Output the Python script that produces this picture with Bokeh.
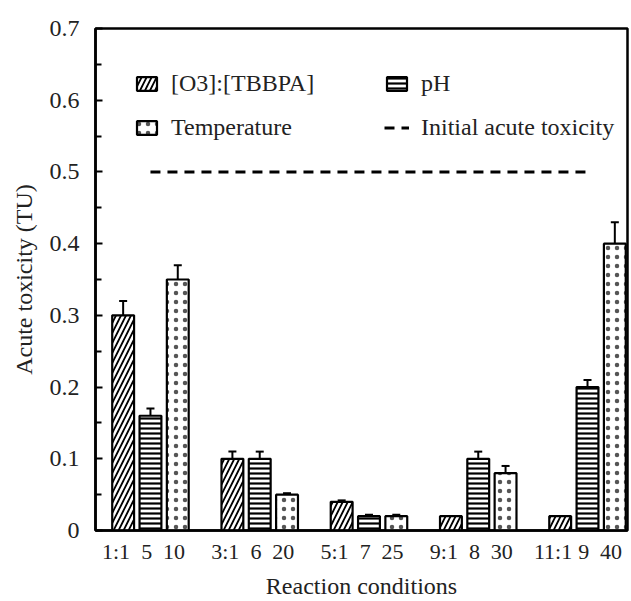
from bokeh.plotting import figure
from bokeh.models import (ColumnDataSource, FixedTicker, Legend, LegendItem,
                          Whisker, TeeHead, Range1d)
from bokeh.embed import file_html
from bokeh.resources import INLINE

# ---- data ----
o3_ratio = ["1:1", "3:1", "5:1", "9:1", "11:1"]
ph_values = ["5", "6", "7", "8", "9"]
temperatures = ["10", "20", "25", "30", "40"]
o3_tox = [0.30, 0.10, 0.04, 0.02, 0.02]
o3_err = [0.02, 0.01, 0.002, 0.0, 0.0]
ph_tox = [0.16, 0.10, 0.02, 0.10, 0.20]
ph_err = [0.01, 0.01, 0.002, 0.01, 0.01]
temp_tox = [0.35, 0.05, 0.02, 0.08, 0.40]
temp_err = [0.02, 0.002, 0.002, 0.01, 0.03]
initial_toxicity = 0.5
y_ticks = [0, 0.1, 0.2, 0.3, 0.4, 0.5, 0.6, 0.7]
y_minor = [0.05, 0.15, 0.25, 0.35, 0.45, 0.55, 0.65]

FONT = "'Liberation Serif', 'Times New Roman', serif"
groups = list(range(len(o3_ratio)))
offsets = [-0.25, 0.0, 0.25]
label_shift = [-0.065, -0.035, -0.035]
bar_w = 0.2

p = figure(width=631, height=601, output_backend="svg", toolbar_location=None,
           x_range=Range1d(-0.503, 4.366), y_range=Range1d(0, 0.7),
           min_border_left=95, min_border_right=4, min_border_top=28,
           min_border_bottom=71)
p.grid.visible = False
p.outline_line_color = "black"
p.outline_line_width = 2.5
p.background_fill_color = "white"
p.border_fill_color = "white"

series = [
    ("[O3]:[TBBPA]", o3_tox, o3_err, dict(hatch_pattern="right_diagonal_line", hatch_scale=10, hatch_weight=1.8, hatch_color="black")),
    ("pH", ph_tox, ph_err, dict(hatch_pattern="horizontal_line", hatch_scale=5, hatch_weight=2.2, hatch_color="black")),
    ("Temperature", temp_tox, temp_err, dict(hatch_pattern="dot", hatch_scale=9, hatch_weight=0.4, hatch_color="#555555")),
]

renderers = {}
for (name, vals, errs, hatch), off in zip(series, offsets):
    xs = [g + off for g in groups]
    src = ColumnDataSource(dict(x=xs, top=vals))
    r = p.vbar(x="x", top="top", width=bar_w, bottom=0, source=src,
               fill_color="white", line_color="black", line_width=2.2, **hatch)
    renderers[name] = r
    wx = [x for x, e in zip(xs, errs) if e > 0]
    wu = [v + e for v, e in zip(vals, errs) if e > 0]
    wl = [v - e for v, e in zip(vals, errs) if e > 0]
    wsrc = ColumnDataSource(dict(base=wx, upper=wu, lower=wl))
    p.add_layout(Whisker(source=wsrc, base="base", upper="upper", lower="lower",
                         line_color="black", line_width=2,
                         upper_head=TeeHead(size=8, line_width=2, line_color="black"),
                         lower_head=TeeHead(size=8, line_width=2, line_color="black")))

line_r = p.line(x=[groups[0], groups[-1]], y=[initial_toxicity, initial_toxicity],
                line_color="black", line_width=3, line_dash="10 7")

# ---- axes ----
tick_pos = []
tick_lab = {}
for g in groups:
    for off, sh, lab in zip(offsets, label_shift, [o3_ratio[g], ph_values[g], temperatures[g]]):
        pos = round(g + off + sh, 3)
        tick_pos.append(pos)
        tick_lab[pos] = lab
p.xaxis.ticker = FixedTicker(ticks=tick_pos)
p.xaxis.major_label_overrides = tick_lab
p.xaxis.major_tick_in = 0
p.xaxis.major_tick_out = 0
p.xaxis.minor_tick_in = 0
p.xaxis.minor_tick_out = 0
p.xaxis.axis_label = "Reaction conditions"
p.xaxis.major_label_standoff = 8
p.xaxis.axis_label_standoff = 6

p.yaxis.ticker = FixedTicker(ticks=y_ticks, minor_ticks=y_minor)
p.yaxis.major_label_overrides = {0: "0"}
p.yaxis.major_tick_in = 7
p.yaxis.major_tick_out = 0
p.yaxis.minor_tick_in = 6
p.yaxis.minor_tick_out = 0
p.yaxis.axis_label = "Acute toxicity (TU)"
p.yaxis.major_label_standoff = 16
p.yaxis.axis_label_standoff = 10

for ax in (p.xaxis, p.yaxis):
    ax.axis_line_width = 2.5
    ax.axis_line_color = "black"
    ax.major_tick_line_width = 2
    ax.minor_tick_line_width = 2
    ax.major_label_text_font = FONT
    ax.axis_label_text_font = FONT
    ax.axis_label_text_font_style = "normal"
    ax.axis_label_text_font_size = "24px"
    ax.major_label_text_color = "#222222"
    ax.axis_label_text_color = "#222222"
p.yaxis.major_label_text_font_size = "24px"
p.xaxis.major_label_text_font_size = "22px"

# ---- legends ----
def make_legend(items, loc):
    lg = Legend(items=items, location=loc, orientation="vertical",
                label_text_font=FONT, label_text_font_size="24px",
                label_text_color="#222222",
                glyph_width=25, glyph_height=17, label_height=26,
                label_standoff=12, spacing=17, padding=0, margin=0,
                border_line_alpha=0, background_fill_alpha=0)
    return lg

leg1 = make_legend([LegendItem(label="[O3]:[TBBPA]", renderers=[renderers["[O3]:[TBBPA]"]]),
                    LegendItem(label="Temperature", renderers=[renderers["Temperature"]])],
                   (39, 389))
leg2 = make_legend([LegendItem(label="pH", renderers=[renderers["pH"]]),
                    LegendItem(label="Initial acute toxicity", renderers=[line_r])],
                   (289, 389))
p.add_layout(leg1)
p.add_layout(leg2)

open("out.html", "w").write(file_html(p, INLINE))
